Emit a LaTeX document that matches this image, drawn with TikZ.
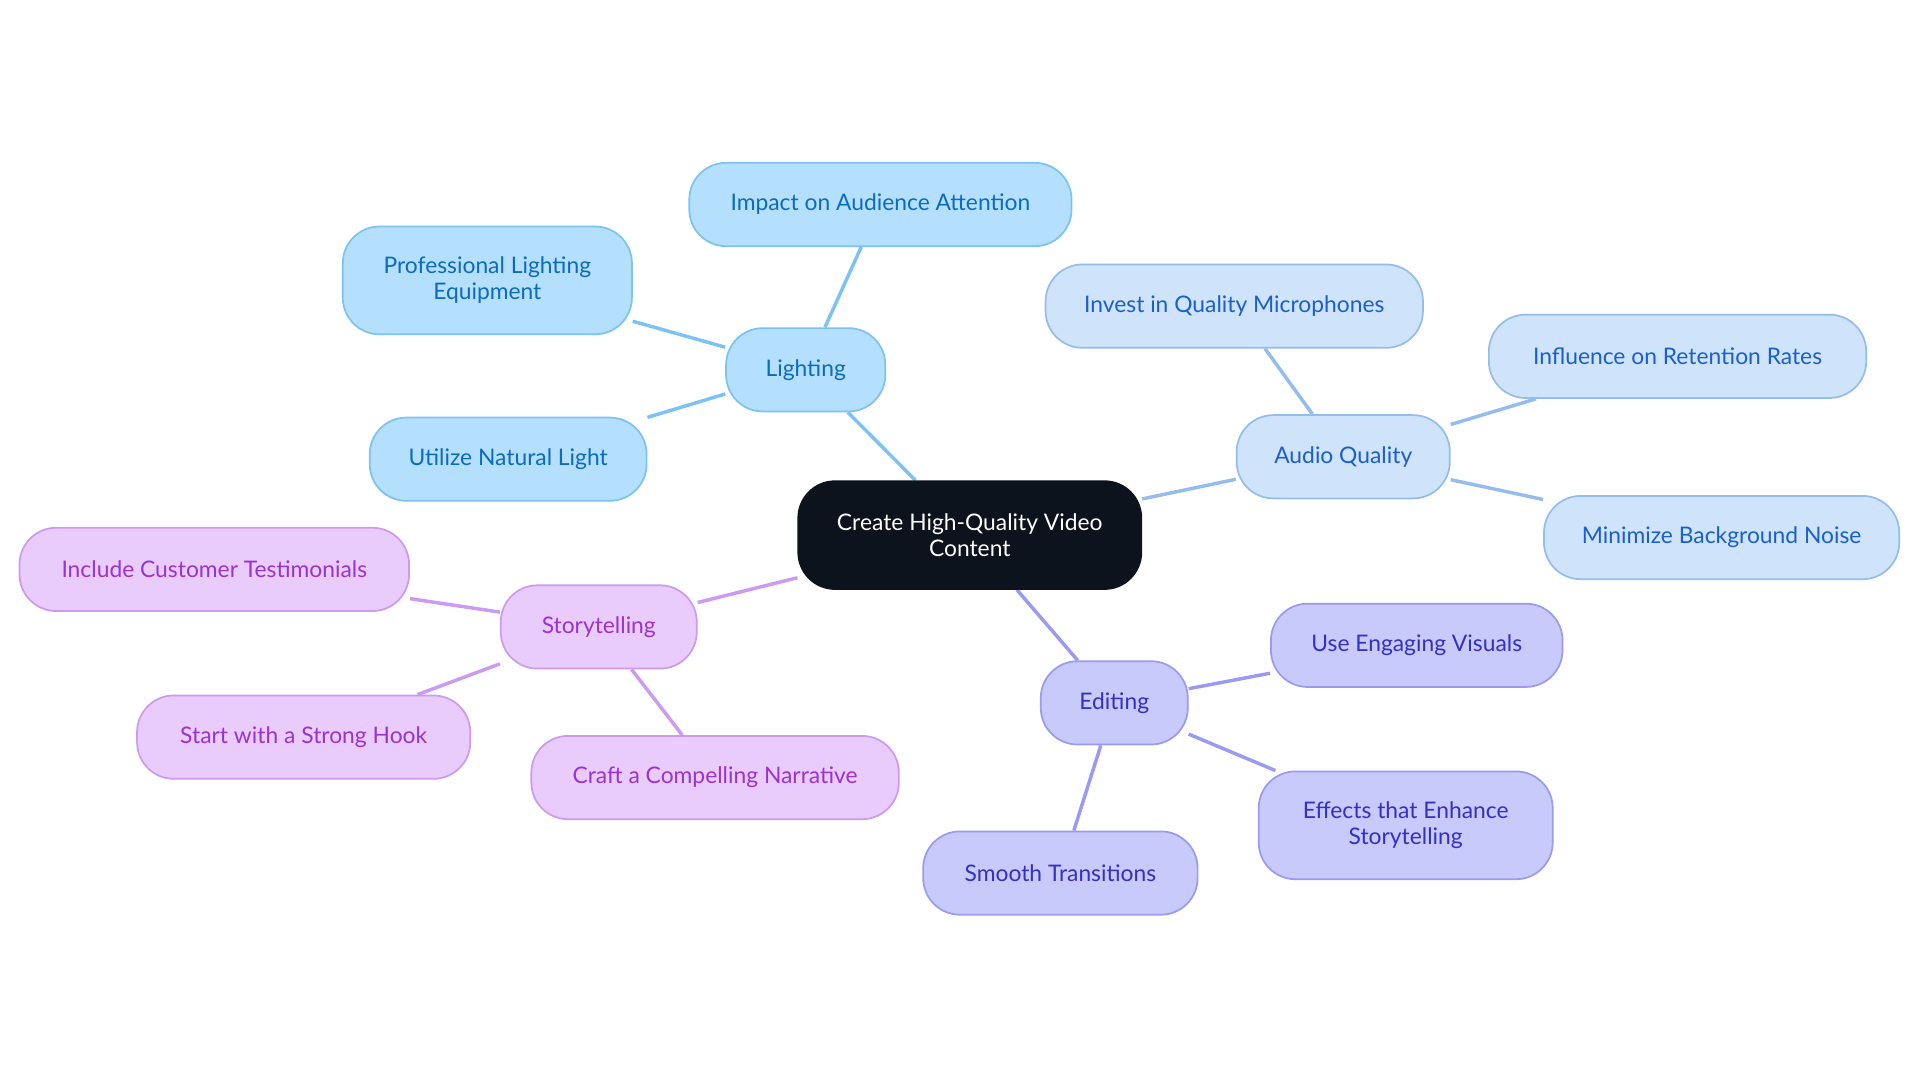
\documentclass[tikz,border=0pt]{standalone}
\usepackage{fontspec}
\setmainfont{Lato}
\usetikzlibrary{backgrounds}
\definecolor{lightfill}{HTML}{B5E0FD}\definecolor{lightline}{HTML}{7CC2F2}\definecolor{lighttext}{HTML}{0B6BC0}
\definecolor{audiofill}{HTML}{CFE3FB}\definecolor{audioline}{HTML}{94BDEE}\definecolor{audiotext}{HTML}{1A5FCF}
\definecolor{editfill}{HTML}{C8CAFC}\definecolor{editline}{HTML}{9A9AF0}\definecolor{edittext}{HTML}{3430C4}
\definecolor{storyfill}{HTML}{E9CBFC}\definecolor{storyline}{HTML}{CC9AF0}\definecolor{storytext}{HTML}{9933D2}
\definecolor{rootfill}{HTML}{0D131C}
\tikzset{
  box/.style={rounded corners=0.3cm,draw,line width=0.4pt,align=center,inner sep=0pt,
    minimum height=0.68cm,font=\fontsize{5.3}{6}\selectfont},
  light/.style={box,fill=lightfill,draw=lightline,text=lighttext},
  audio/.style={box,fill=audiofill,draw=audioline,text=audiotext},
  edit/.style={box,fill=editfill,draw=editline,text=edittext},
  story/.style={box,fill=storyfill,draw=storyline,text=storytext},
  root/.style={box,fill=rootfill,draw=rootfill,text=white,minimum height=0.88cm,minimum width=2.8cm},
  link/.style={line width=0.8pt}
}
\begin{document}
\begin{tikzpicture}[x=0.01cm,y=-0.01cm]
\useasboundingbox (0,0) rectangle (1568,884);
% centre
\node[root] (root) at (792,437) {Create High-Quality Video\\Content};
% lighting
\node[light,minimum width=1.3cm] (lighting) at (658,302) {Lighting};
\node[light,minimum width=3.12cm] (impact) at (719,167) {Impact on Audience Attention};
\node[light,minimum width=2.36cm,minimum height=0.88cm] (pro) at (398,229) {Professional Lighting\\Equipment};
\node[light,minimum width=2.26cm] (natural) at (415,375) {Utilize Natural Light};
% audio
\node[audio,minimum width=1.74cm] (audio) at (1097,373) {Audio Quality};
\node[audio,minimum width=3.08cm] (mics) at (1008,250) {Invest in Quality Microphones};
\node[audio,minimum width=3.08cm] (retention) at (1370,291) {Influence on Retention Rates};
\node[audio,minimum width=2.9cm] (noise) at (1406,439) {Minimize Background Noise};
% editing
\node[edit,minimum width=1.2cm] (editing) at (910,574) {Editing};
\node[edit,minimum width=2.38cm] (visuals) at (1157,527) {Use Engaging Visuals};
\node[edit,minimum width=2.4cm,minimum height=0.88cm] (effects) at (1148,674) {Effects that Enhance\\Storytelling};
\node[edit,minimum width=2.24cm] (smooth) at (866,713) {Smooth Transitions};
% storytelling
\node[story,minimum width=1.6cm] (story) at (489,512) {Storytelling};
\node[story,minimum width=3.18cm] (testim) at (175,465) {Include Customer Testimonials};
\node[story,minimum width=2.72cm] (hook) at (248,602) {Start with a Strong Hook};
\node[story,minimum width=3cm] (narr) at (584,635) {Craft a Compelling Narrative};
\begin{scope}[on background layer]
\draw[link,lightline] (root) -- (lighting) (lighting) -- (impact) (lighting) -- (pro) (lighting) -- (natural);
\draw[link,audioline] (root) -- (audio) (audio) -- (mics) (audio) -- (retention) (audio) -- (noise);
\draw[link,editline] (root) -- (editing) (editing) -- (visuals) (editing) -- (effects) (editing) -- (smooth);
\draw[link,storyline] (root) -- (story) (story) -- (testim) (story) -- (hook) (story) -- (narr);
\end{scope}
\end{tikzpicture}
\end{document}
